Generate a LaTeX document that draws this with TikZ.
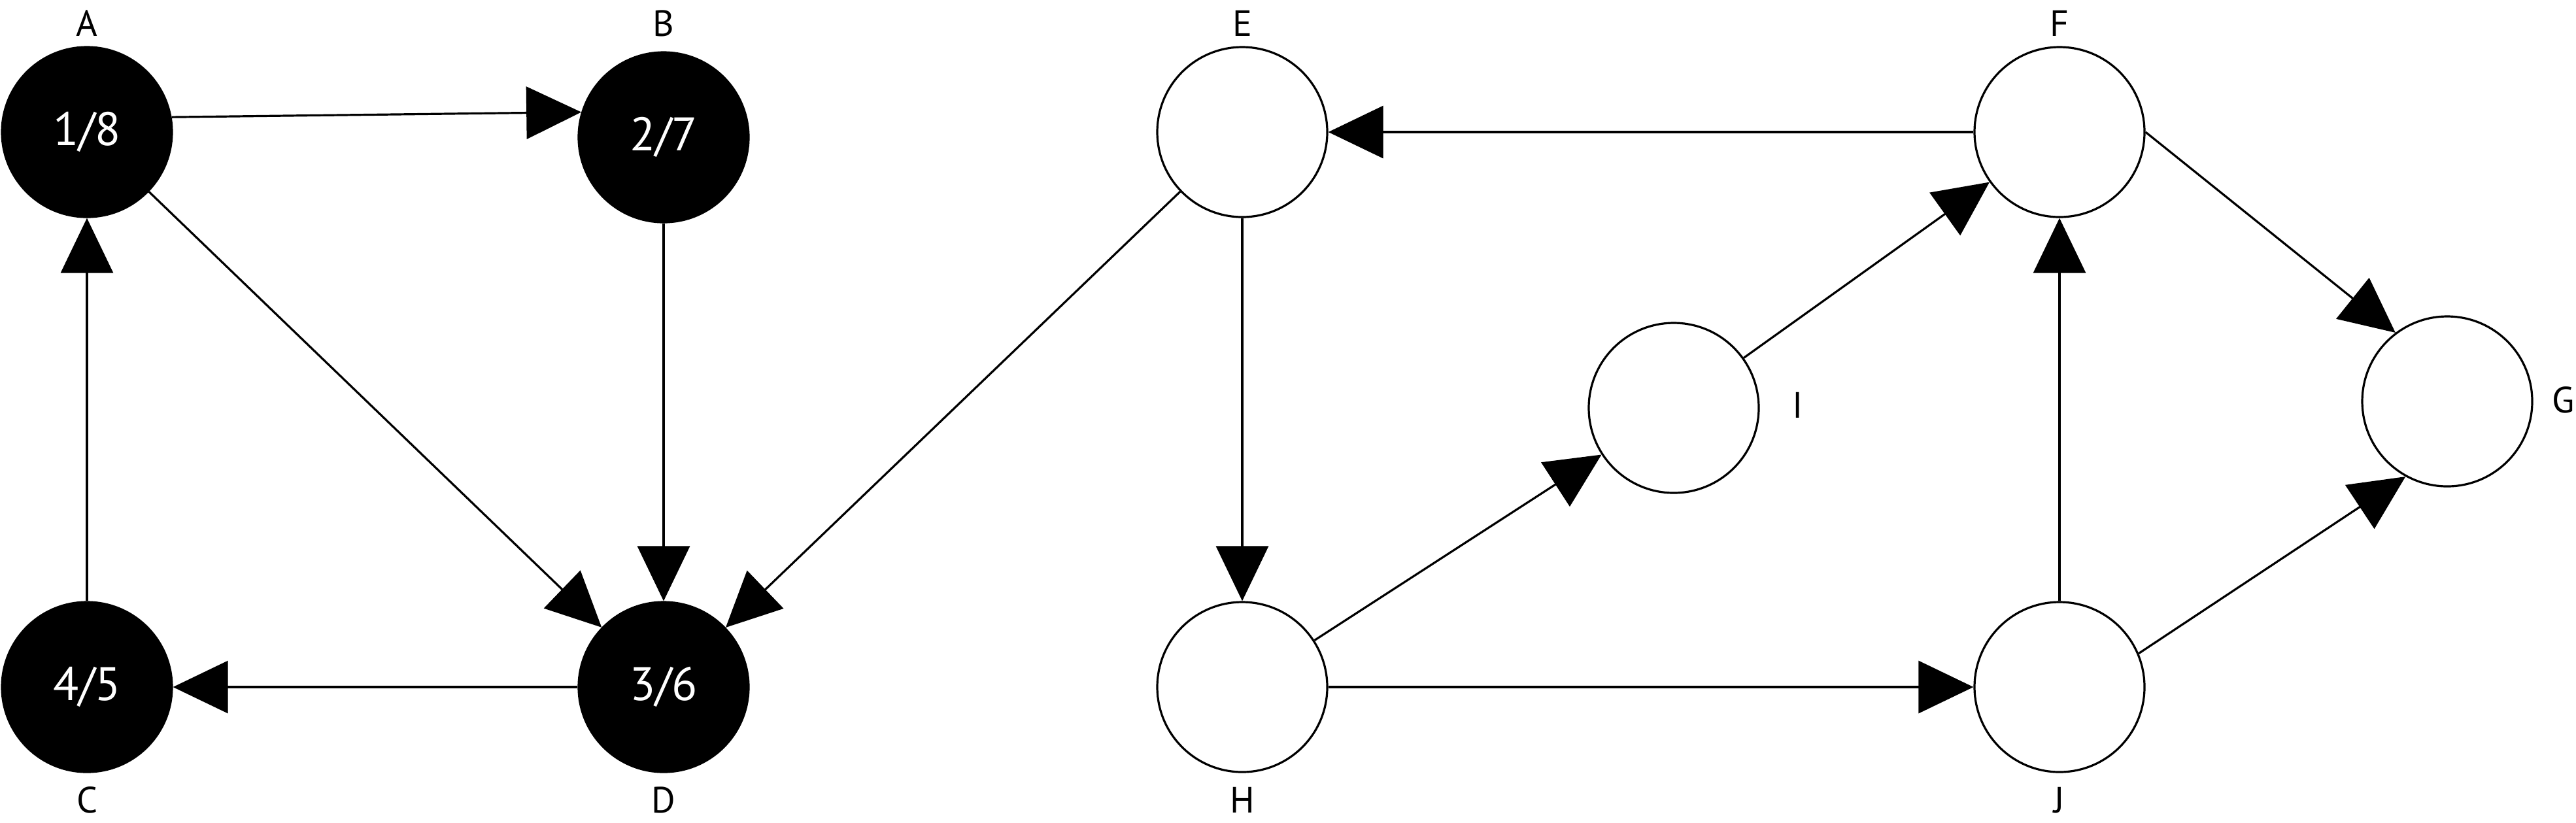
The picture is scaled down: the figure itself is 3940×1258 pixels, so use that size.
\documentclass[tikz,border=0pt]{standalone}
\usepackage{fontspec}
\setmainfont{PT Sans}
\usetikzlibrary{arrows.meta,positioning}

\begin{document}
\begin{tikzpicture}[x=0.25pt,y=0.25pt,yscale=-1,
  done/.style={circle,fill=black,draw=black,line width=0.8pt,minimum size=65pt,inner sep=0pt,text=white,font=\fontsize{18}{20}\selectfont},
  fresh/.style={circle,fill=white,draw=black,line width=0.8pt,minimum size=65pt,inner sep=0pt},
  lbl/.style={font=\fontsize{14}{16}\selectfont},
  edge/.style={line width=0.8pt,-{Triangle[length=21pt,width=20pt]}}]
\useasboundingbox (0,0) rectangle (3940,1258);

%Finished vertices
\node[done] (A) at (133,202) {1/8};
\node[done] (B) at (1015,210) {2/7};
\node[done] (C) at (133,1051) {4/5};
\node[done] (D) at (1015,1051) {3/6};
%Unvisited vertices
\node[fresh] (E) at (1900,202) {};
\node[fresh] (F) at (3150,202) {};
\node[fresh] (G) at (3743,614) {};
\node[fresh] (I) at (2560,624) {};
\node[fresh] (H) at (1900,1051) {};
\node[fresh] (J) at (3150,1051) {};

% Text Node
\node[lbl] (labA) at (133,36) {A};
\node[lbl] (labB) at (1015,36) {B};
\node[lbl] (labE) at (1900,36) {E};
\node[lbl] (labF) at (3150,36) {F};
\node[lbl] (labC) at (133,1224) {C};
\node[lbl] (labD) at (1015,1224) {D};
\node[lbl] (labH) at (1900,1224) {H};
\node[lbl] (labJ) at (3150,1224) {J};
\node[lbl] (labI) at (2750,620) {I};
\node[lbl] (labG) at (3921,612) {G};

%Edges
\draw[edge] (A.10) -- (B.163);
\draw[edge] (A) -- (D);
\draw[edge] (B) -- (D);
\draw[edge] (C) -- (A);
\draw[edge] (D) -- (C);
\draw[edge] (E) -- (D);
\draw[edge] (F) -- (E);
\draw[edge] (E) -- (H);
\draw[edge] (H) -- (J);
\draw[edge] (H) -- (I);
\draw[edge] (I) -- (F);
\draw[edge] (J) -- (F);
\draw[edge] (F.east) -- (G.127);
\draw[edge] (J.23) -- (G.241);
\end{tikzpicture}
\end{document}
